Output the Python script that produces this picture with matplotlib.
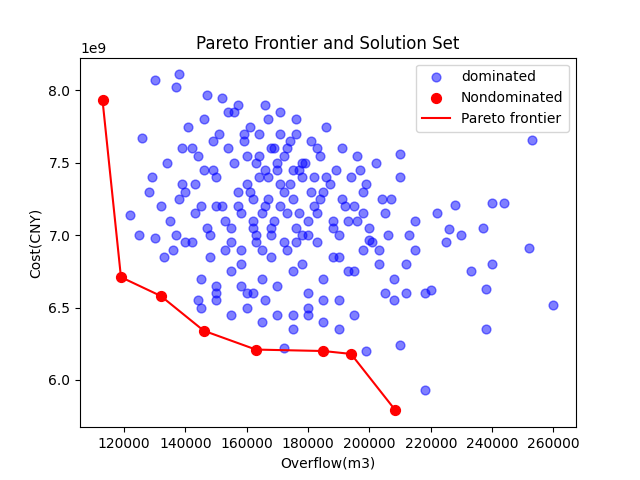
import numpy as np
import matplotlib.pyplot as plt

# dominated solutions (overflow in 1000 m3, cost in 1e9 CNY)
dom_x = [260, 253, 252, 238, 218, 210, 199, 172, 130, 138, 137, 147, 129, 126, 122, 125, 130,
         240, 244, 240, 233, 228, 222, 226, 237, 210, 210, 208, 212, 218, 220, 238, 200,
         135, 140, 145, 150, 155, 160, 165, 170, 175, 180, 185, 190, 195, 200, 205,
         136, 142, 148, 153, 158, 163, 168, 173, 178, 183, 188, 193, 198, 203, 208,
         134, 139, 144, 149, 154, 159, 164, 169, 174, 179, 184, 189, 194, 199, 204,
         138, 143, 147, 152, 157, 162, 166, 171, 176, 181, 186, 191, 196, 201, 206,
         141, 146, 151, 156, 161, 166, 171, 176, 181, 186, 191, 196,
         145, 150, 155, 160, 165, 170, 175, 180, 185, 190,
         148, 153, 158, 163, 168, 173, 178, 183, 188, 193, 198,
         143, 149, 156, 162, 167, 172, 177, 182, 187, 192,
         132, 137, 128, 133, 140, 145, 150, 155, 160, 165, 170, 175, 180, 185, 190, 195,
         157, 161, 164, 167, 169, 171, 174, 177, 160, 163, 166, 168, 170, 172, 175, 178,
         155, 158, 162, 165, 168, 172, 176, 180, 159, 164, 167, 171, 173, 176, 182, 184,
         205, 212, 215, 225, 230, 215, 202, 207, 213, 197, 150, 152, 144, 180, 185, 175,
         166, 162, 158, 190, 195, 178, 183, 150, 146, 142, 139, 154, 157, 188, 198, 203]
dom_y = [6.52, 7.66, 6.91, 6.35, 5.93, 6.24, 6.20, 6.22, 8.07, 8.11, 8.02, 7.97, 7.40, 7.67, 7.14, 7.00, 6.98,
         7.22, 7.22, 6.80, 6.75, 7.21, 7.15, 7.04, 7.05, 7.40, 7.56, 6.55, 6.60, 6.60, 6.62, 6.63, 6.97,
         7.10, 7.30, 7.20, 7.40, 7.05, 7.35, 7.15, 7.45, 7.25, 7.10, 7.30, 7.00, 7.20, 7.05, 7.15,
         6.90, 6.95, 6.85, 6.90, 6.80, 6.95, 6.85, 6.90, 6.80, 6.95, 6.85, 6.75, 6.90, 6.80, 6.70,
         7.50, 7.60, 7.55, 7.65, 7.60, 7.70, 7.55, 7.60, 7.65, 7.50, 7.55, 7.45, 7.40, 7.35, 7.25,
         7.25, 7.15, 7.05, 7.20, 7.30, 7.10, 7.20, 7.35, 7.05, 7.30, 7.40, 7.25, 7.10, 6.95, 7.00,
         7.75, 7.80, 7.70, 7.85, 7.75, 7.90, 7.70, 7.80, 7.65, 7.75, 7.60, 7.55,
         6.70, 6.65, 6.75, 6.60, 6.70, 6.65, 6.75, 6.60, 6.70, 6.55,
         7.00, 7.10, 7.15, 7.00, 7.05, 7.15, 7.00, 7.15, 7.05, 7.10, 7.30,
         7.35, 7.45, 7.50, 7.25, 7.40, 7.30, 7.45, 7.40, 7.35, 7.20,
         7.20, 7.00, 7.30, 6.85, 6.95, 6.50, 6.55, 6.45, 6.50, 6.40, 6.45, 6.35, 6.45, 6.40, 6.35, 6.45,
         7.20, 7.30, 7.40, 7.25, 7.10, 7.20, 7.35, 7.15, 7.55, 7.50, 7.45, 7.60, 7.50, 7.55, 7.45, 7.40,
         6.95, 6.90, 7.05, 6.90, 7.00, 6.95, 6.95, 7.00, 7.65, 7.70, 7.80, 7.85, 7.60, 7.70, 7.20, 7.25,
         6.60, 6.80, 6.90, 6.95, 7.00, 7.10, 7.50, 7.25, 7.00, 7.45, 6.60, 7.95, 6.55, 6.50, 6.55, 6.45,
         6.55, 6.60, 6.65, 6.85, 6.75, 7.50, 7.60, 7.20, 7.45, 7.60, 7.35, 7.85, 7.90, 7.10, 7.15, 6.90]
dom_x = np.array(dom_x) * 1000
dom_y = np.array(dom_y) * 1e9

# Pareto (nondominated) solutions
par_x = np.array([113, 119, 132, 146, 163, 185, 194, 208.5]) * 1000
par_y = np.array([7.93, 6.71, 6.58, 6.34, 6.21, 6.20, 6.18, 5.79]) * 1e9

plt.figure(figsize=(6.4, 4.8))
plt.scatter(dom_x, dom_y, color='blue', alpha=0.5, s=40, label='dominated')
plt.scatter(par_x, par_y, color='red', s=50, zorder=3, label='Nondominated')
plt.plot(par_x, par_y, color='red', label='Pareto frontier')
plt.title('Pareto Frontier and Solution Set')
plt.xlabel('Overflow(m3)')
plt.ylabel('Cost(CNY)')
plt.legend(loc='upper right')
plt.savefig('out.png', dpi=100)
